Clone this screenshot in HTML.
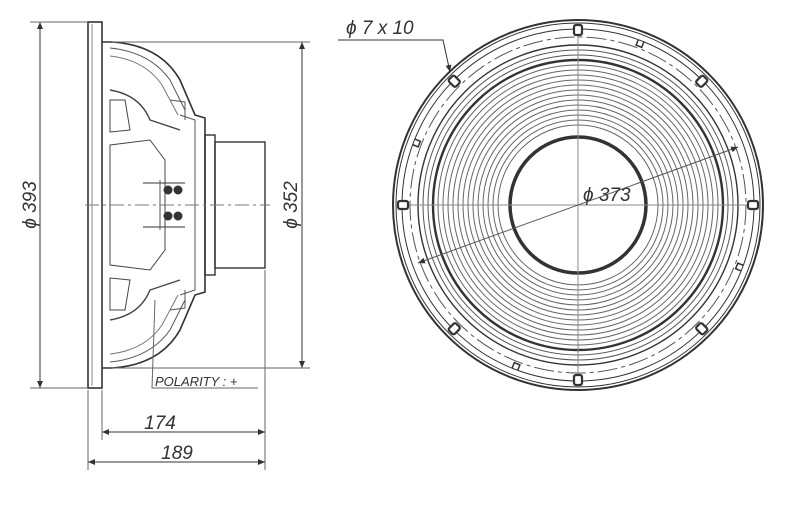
<!DOCTYPE html>
<html><head><meta charset="utf-8"><style>body{margin:0;background:#fff}svg{display:block}text{font-family:"Liberation Sans",sans-serif;font-style:italic;fill:#333}</style></head><body>
<svg width="802" height="514" viewBox="0 0 802 514" xmlns="http://www.w3.org/2000/svg">
<defs><marker id="a" markerWidth="8" markerHeight="8" refX="7" refY="3" orient="auto-start-reverse"><path d="M0,0 L7,3 L0,6z" fill="#333"/></marker></defs>
<g stroke="#333" fill="none" stroke-width="1">
<rect x="88" y="22" width="14" height="366" stroke-width="1.6"/>
<line x1="92" y1="24" x2="92" y2="386" stroke="#888"/>
<path d="M102,42 L112,42 Q160,45 180,80 L195,115 L205,118 L205,292 L195,295 L180,330 Q160,365 112,368 L102,368" stroke-width="1.6"/>
<path d="M110,48 Q150,52 170,80 L185,110 M110,362 Q150,358 170,330 L185,300" stroke="#555"/>
<path d="M110,56 Q145,60 162,85 L178,115 M110,354 Q145,350 162,325 L178,295" stroke="#777"/>
<path d="M110,90 Q140,95 150,120 L180,130 M110,320 Q140,315 150,290 L180,280" stroke="#444" stroke-width="1.4"/>
<path d="M110,145 L150,140 L165,160 L165,250 L150,270 L110,265 Z" stroke="#444"/>
<path d="M110,100 L125,100 L130,130 L110,132 Z M110,310 L125,310 L130,280 L110,278 Z" stroke="#444"/>
<path d="M180,115 L195,120 L195,290 L180,295" stroke="#555"/>
<path d="M170,100 L185,102 L185,120 M170,310 L185,308 L185,290" stroke="#555"/>
<rect x="205" y="135" width="10" height="140" stroke-width="1.4"/>
<rect x="215" y="142" width="50" height="126" stroke-width="1.4"/>
<line x1="143" y1="183" x2="185" y2="183"/><line x1="143" y1="227" x2="185" y2="227"/>
<line x1="160" y1="180" x2="160" y2="230" stroke="#555"/>
<circle cx="168" cy="190" r="4" fill="#333"/><circle cx="178" cy="190" r="4" fill="#333"/>
<circle cx="168" cy="216" r="4" fill="#333"/><circle cx="178" cy="216" r="4" fill="#333"/>
<line x1="85" y1="205" x2="270" y2="205" stroke="#777" stroke-dasharray="14,4,3,4"/>
<line x1="40" y1="22" x2="40" y2="388" marker-start="url(#a)" marker-end="url(#a)"/>
<line x1="30" y1="22" x2="88" y2="22" stroke="#666"/><line x1="30" y1="388" x2="88" y2="388" stroke="#666"/>
<line x1="302" y1="42" x2="302" y2="368" marker-start="url(#a)" marker-end="url(#a)"/>
<line x1="112" y1="42" x2="310" y2="42" stroke="#666"/><line x1="112" y1="368" x2="310" y2="368" stroke="#666"/>
<line x1="88" y1="390" x2="88" y2="470" stroke="#666"/><line x1="102" y1="390" x2="102" y2="440" stroke="#666"/>
<line x1="265" y1="270" x2="265" y2="470" stroke="#666"/>
<line x1="102" y1="432" x2="265" y2="432" marker-start="url(#a)" marker-end="url(#a)"/>
<line x1="88" y1="462" x2="265" y2="462" marker-start="url(#a)" marker-end="url(#a)"/>
<path d="M155,300 L152,388 L258,388" stroke="#666"/>
<g transform="translate(578,205)">
<circle r="185" stroke-width="2"/><circle r="182"/><circle r="176"/>
<circle r="168" stroke-dasharray="20,4,4,4" stroke="#555"/>
<circle r="160" stroke-width="1.4"/>
<circle r="155" stroke="#555"/><circle r="150" stroke="#555"/>
<circle r="145" stroke-width="2.4"/>
<circle r="140" stroke="#666"/><circle r="135" stroke="#666"/><circle r="130" stroke="#666"/><circle r="125" stroke="#666"/><circle r="120" stroke="#666"/><circle r="115" stroke="#666"/><circle r="110" stroke="#666"/><circle r="105" stroke="#666"/><circle r="100" stroke="#666"/><circle r="95" stroke="#666"/><circle r="90" stroke="#666"/><circle r="85" stroke="#666"/><circle r="80" stroke="#666"/>
<circle r="68" stroke-width="3.5"/>
<line x1="-180" y1="0" x2="180" y2="0" stroke="#888"/><line x1="0" y1="-180" x2="0" y2="180" stroke="#888"/>
<line x1="-160" y1="58" x2="160" y2="-58" stroke="#555" marker-start="url(#a)" marker-end="url(#a)"/>
<g fill="#fff" stroke-width="2.2">
<rect x="-4" y="-180" width="8" height="10" rx="2"/><rect x="-4" y="170" width="8" height="10" rx="2"/>
<rect x="-180" y="-4" width="10" height="8" rx="2"/><rect x="170" y="-4" width="10" height="8" rx="2"/>
<rect x="-4" y="-180" width="8" height="10" rx="2" transform="rotate(45)"/><rect x="-4" y="-180" width="8" height="10" rx="2" transform="rotate(-45)"/>
<rect x="-4" y="-180" width="8" height="10" rx="2" transform="rotate(135)"/><rect x="-4" y="-180" width="8" height="10" rx="2" transform="rotate(-135)"/>
</g>
<g stroke-width="1.5"><path d="M-6,-176 v6 h6 v-6" transform="rotate(22)"/><path d="M-6,-176 v6 h6 v-6" transform="rotate(112)"/><path d="M-6,-176 v6 h6 v-6" transform="rotate(202)"/><path d="M-6,-176 v6 h6 v-6" transform="rotate(292)"/></g>
</g>
<path d="M338,40 L443,40 L450,72" marker-end="url(#a)"/>
</g>
<text x="346" y="34" font-size="19">ϕ 7 x 10</text>
<text x="583" y="201" font-size="19">ϕ 373</text>
<text x="160" y="429" font-size="19" text-anchor="middle">174</text>
<text x="177" y="459" font-size="19" text-anchor="middle">189</text>
<text x="155" y="386" font-size="13">POLARITY : +</text>
<text font-size="19" transform="translate(36,205) rotate(-90)" text-anchor="middle">ϕ 393</text>
<text font-size="19" transform="translate(297,205) rotate(-90)" text-anchor="middle">ϕ 352</text>
</svg>
</body></html>
